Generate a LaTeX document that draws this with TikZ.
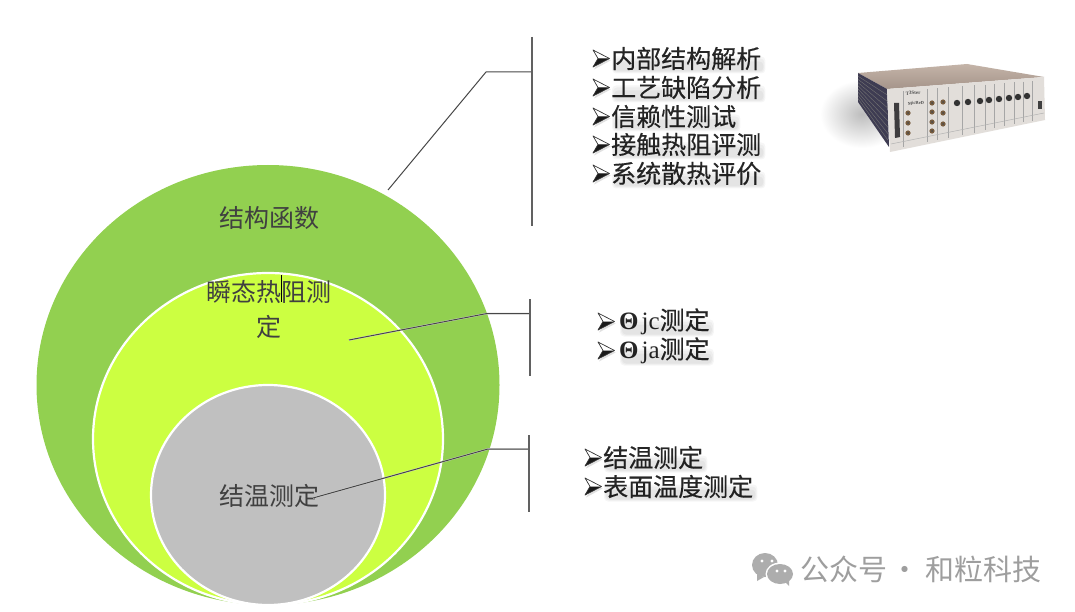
\documentclass[tikz,border=0pt]{standalone}
\usepackage{fontspec}
\setmainfont{Liberation Serif}
\newfontfamily\cjkfont{Noto Sans CJK SC}
\newfontfamily\listfont{Noto Sans CJK SC}[FakeBold=0.35]

\tikzset{
	circlelabel/.style={inner sep=0, text=black!75, font=\cjkfont\fontsize{25}{25}\selectfont},
	listtext/.style={inner sep=0, anchor=west, text=black!85, font=\listfont\fontsize{25}{25}\selectfont},
	softshadow/.style={black, opacity=.035, rounded corners=4pt},
	leader/.style={draw=black!72, line width=1pt},
	leadershadow/.style={draw=black!14, line width=1.6pt, xshift=1pt, yshift=-2pt},
	bracket/.style={draw=black!62, line width=1.4pt},
	ring/.style={draw=white, line width=2.2pt},
	listarrow/.pic={
		\fill [black!12] (2,-7) -- (18.5,2) -- (2,11) -- (7,2) -- cycle;
		\fill [white] (1,-8.5) -- (17.5,0) -- (6,0) -- cycle;
		\fill [black!90] (1,8.5) -- (17.5,0) -- (6,0) -- cycle;
		\draw [black!80, line width=.7pt, line join=round] (1,-8.5) -- (17.5,0) -- (1,8.5) -- (6,0) -- cycle;
	}
}

\newcommand{\listitem}[4]{
	\pic at (#2) {listarrow};
	\node [listtext, xshift=#3] (#1) at (#2) {#4};
	\fill [softshadow] ([xshift=1pt, yshift=2pt]#1.west) rectangle ([xshift=4pt, yshift=-15pt]#1.east);
	\fill [softshadow] ([xshift=2pt, yshift=0pt]#1.west) rectangle ([xshift=3pt, yshift=-14pt]#1.east);
	\fill [softshadow] ([xshift=3pt, yshift=-3pt]#1.west) rectangle ([xshift=2pt, yshift=-13pt]#1.east);
}

\begin{document}
\begin{tikzpicture}[x=1pt, y=-1pt]
	
	\useasboundingbox (0,0) rectangle (1075,612);
	\clip (0,0) rectangle (1075,612);
	
	\fill [white] (0,0) rectangle (1075,612);
	
	\fill [color={rgb,255:red,146;green,208;blue,80}] (268,385) ellipse [x radius=231.5, y radius=220];
	
	\path [ring, fill={rgb,255:red,204;green,255;blue,65}] (268,439) ellipse [x radius=175, y radius=166];
	
	\path [ring, fill={rgb,255:red,192;green,192;blue,192}] (268,495) ellipse [x radius=117, y radius=110];
	
	\node [circlelabel] (structure) at (269,218.5) {结构函数};
	
	\node [circlelabel] (transient) at (268.5,291.5) {瞬态热阻测};
	
	\node [circlelabel] (transient2) at (268.5,326.5) {定};
	
	\node [circlelabel] (junction) at (269,495.5) {结温测定};
	
	\coordinate (cursortop) at (281,275);
	\coordinate (cursorbottom) at (281,302);
	\draw [black, line width=.8pt] (cursortop) -- (cursorbottom);
	
	\coordinate (topstart) at (388,190);
	\coordinate (topbend) at (486,72);
	\coordinate (topjoin) at (532,72);
	\coordinate (topup) at (532,37);
	\coordinate (topdown) at (532,226);
	\draw [leader] (topstart) -- (topbend) -- (topjoin);
	\draw [bracket] (topup) -- (topdown);
	
	\coordinate (midstart) at (349,340);
	\coordinate (midbend) at (487,313.5);
	\coordinate (midjoin) at (530,313.5);
	\coordinate (midup) at (530,299);
	\coordinate (middown) at (530,376);
	\draw [leadershadow] (midstart) -- (midbend) -- (midjoin);
	\draw [leader] (midstart) -- (midbend) -- (midjoin);
	\draw [bracket] (midup) -- (middown);
	
	\coordinate (lowstart) at (313,498);
	\coordinate (lowbend) at (488,449);
	\coordinate (lowjoin) at (529,449);
	\coordinate (lowup) at (529,435);
	\coordinate (lowdown) at (529,512);
	\draw [leadershadow] (lowstart) -- (lowbend) -- (lowjoin);
	\draw [leader] (lowstart) -- (lowbend) -- (lowjoin);
	\draw [bracket] (lowup) -- (lowdown);
	
	\listitem{itema}{592,58.5}{19pt}{内部结构解析}
	\listitem{itemb}{592,87.5}{19pt}{工艺缺陷分析}
	\listitem{itemc}{592,116.5}{19pt}{信赖性测试}
	\listitem{itemd}{592,144.5}{19pt}{接触热阻评测}
	\listitem{iteme}{592,173.5}{19pt}{系统散热评价}
	
	\listitem{thetajc}{597,321.5}{22pt}{{\rmfamily\bfseries Θ}\hspace{3pt}{\rmfamily jc}测定}
	\listitem{thetaja}{597,350.5}{22pt}{{\rmfamily\bfseries Θ}\hspace{3pt}{\rmfamily ja}测定}
	
	\listitem{tempa}{584,457.5}{19pt}{结温测定}
	\listitem{tempb}{584,486.5}{19pt}{表面温度测定}
	
	\shade [inner color=black!26, outer color=white] (862,114) ellipse [x radius=42, y radius=34];
	
	\shade [top color={rgb,255:red,196;green,180;blue,168}, bottom color={rgb,255:red,165;green,148;blue,138}] (858,73) -- (967,64) -- (1044,77) -- (887,89) -- cycle;
	
	\fill [color={rgb,255:red,62;green,60;blue,82}] (858,73) -- (887,89) -- (889,147) -- (858,102) -- cycle;
	
	\foreach \k in {1,...,8} {
		\draw [black!55, line width=.4pt] (858,73+\k*3.2) -- (888,89+\k*6.4);
	}
	
	\fill [color={rgb,255:red,226;green,222;blue,218}] (887,89) -- (1044,77) -- (1045,120) -- (890,152) -- cycle;
	
	\fill [color={rgb,255:red,62;green,60;blue,62}] (894,103) -- (899,103) -- (900,137) -- (895,138) -- cycle;
	
	\foreach \x in {903,927,937,948,962,974,985,994,1004,1014,1023,1032} {
		\draw [black!35, line width=.4pt] (\x,{92-.0764*(\x-887)}) -- (\x,{150-.207*(\x-890)});
	}
	
	\draw [black!30, line width=.5pt] (891,144) -- (1044,113);
	
	\node [inner sep=0, rotate=4, text=black!70, font=\bfseries\fontsize{5}{5}\selectfont] (brand) at (913,93) {T3Ster};
	
	\node [inner sep=0, rotate=4, text=black!70, font=\bfseries\fontsize{4.5}{5}\selectfont] (maker) at (916,103) {MicReD};
	
	\foreach \x/\y in {908/113,908/123,908/133,932/103,932/112,932/122,932/131,943/102,943/113,943/124} {
		\fill [color={rgb,255:red,120;green,92;blue,62}] (\x,\y) circle (2.6);
		\fill [black!70] (\x,\y) circle (1);
	}
	
	\foreach \x/\y in {957/103,968/102,980/101,989/100,999/99,1009/98,1018/97,1027/96} {
		\fill [black!80] (\x,\y) circle (3.2);
	}
	
	\fill [black!75] (1038,101) rectangle (1042,109);
	
	\fill [black!32] (765,565) ellipse [x radius=13, y radius=12];
	\fill [black!32] (757,574) -- (757,581) -- (764,577) -- cycle;
	\fill [white] (780,574) ellipse [x radius=14.5, y radius=11.5];
	\fill [black!32] (780,574) ellipse [x radius=13, y radius=10];
	\fill [black!32] (785,582) -- (789,586) -- (789,580) -- cycle;
	\foreach \x/\y in {762/561,772/561,777/571,785/571} {
		\fill [white] (\x,\y) circle (1.7);
	}
	
	\node [inner sep=0, anchor=west, text=black!38, font=\cjkfont\fontsize{29}{29}\selectfont] (mark) at (800,569) {公众号\hspace{3.5pt}·\hspace{5.5pt}和粒科技};
	
\end{tikzpicture}
\end{document}
